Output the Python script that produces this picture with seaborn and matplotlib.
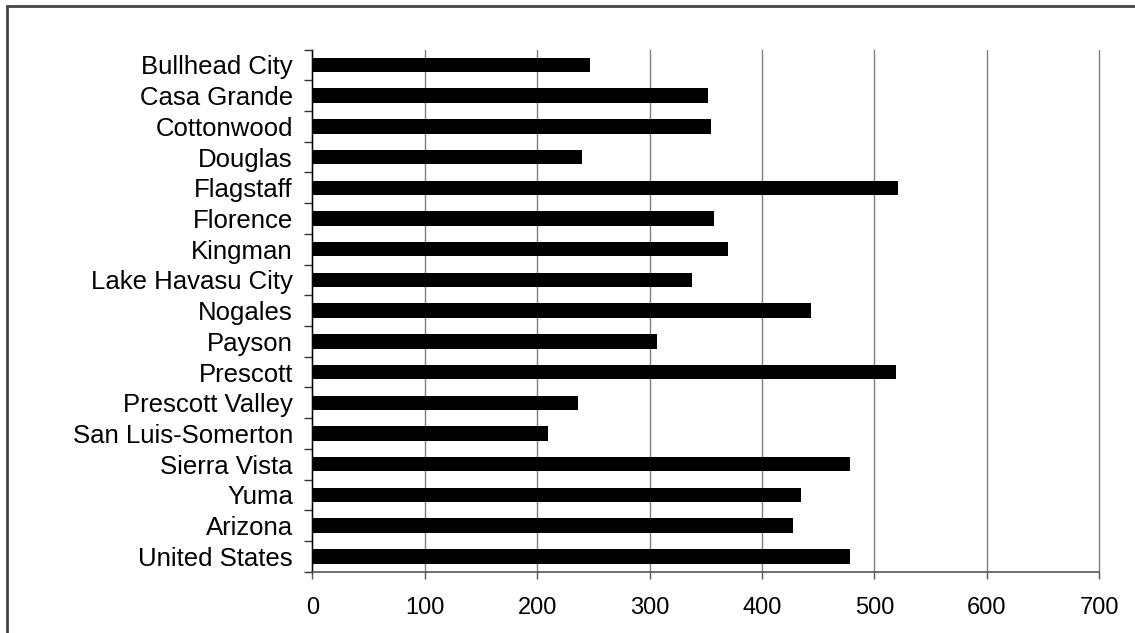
import matplotlib
matplotlib.use('Agg')
import matplotlib.pyplot as plt
import seaborn as sns
import pandas as pd
from matplotlib.patches import Rectangle
from matplotlib.ticker import FixedLocator

# Data
places = ['Bullhead City', 'Casa Grande', 'Cottonwood', 'Douglas', 'Flagstaff',
          'Florence', 'Kingman', 'Lake Havasu City', 'Nogales', 'Payson',
          'Prescott', 'Prescott Valley', 'San Luis-Somerton', 'Sierra Vista',
          'Yuma', 'Arizona', 'United States']
values = [247, 352, 355, 240, 521, 357, 370, 338, 444, 307,
          519, 236, 210, 478, 435, 428, 478]
x_ticks = [0, 100, 200, 300, 400, 500, 600, 700]

df = pd.DataFrame({'place': places, 'value': values})

sns.set_style('white')
plt.rcParams['font.family'] = ['Liberation Sans', 'DejaVu Sans']
plt.rcParams['text.color'] = 'black'
plt.rcParams['xtick.labelcolor'] = 'black'
plt.rcParams['ytick.labelcolor'] = 'black'

fig = plt.figure(figsize=(11.35, 6.33), dpi=100)
ax = fig.add_axes([0.2752, 0.0968, 0.6933, 0.8250])

sns.barplot(data=df, x='value', y='place', orient='h', color='black',
            width=0.47, saturation=1, edgecolor='black', linewidth=0, ax=ax)

ax.set_xlim(0, 700)
ax.set_ylim(len(places) - 0.5, -0.5)
ax.set_xticks(x_ticks)
ax.set_xlabel('')
ax.set_ylabel('')

# vertical gridlines
ax.grid(axis='x', color='#7f7f7f', linewidth=1.0)
ax.grid(axis='y', visible=False)
for gl in ax.get_xgridlines():
    gl.set_clip_on(False)
ax.set_axisbelow(True)

# spines
for s in ['top', 'right']:
    ax.spines[s].set_visible(False)
ax.spines['left'].set_color('#000000')
ax.spines['left'].set_linewidth(1.0)
ax.spines['bottom'].set_color('#555555')
ax.spines['bottom'].set_linewidth(1.2)

# tick marks between categories on the y axis
ax.yaxis.set_minor_locator(FixedLocator([i + 0.5 for i in range(-1, len(places))]))
ax.tick_params(axis='y', which='major', length=0, pad=14, labelsize=18.5)
ax.tick_params(axis='y', which='minor', left=True, length=6, width=1.0, color='#333333')
ax.tick_params(axis='x', which='major', bottom=True, length=5, width=1.0,
               color='#555555', pad=13, labelsize=17)

# outer chart border
fig.patches.append(Rectangle((7 / 1135, -0.05), 1.1, 1.05 - 6 / 633,
                             transform=fig.transFigure, fill=False,
                             edgecolor='#444444', linewidth=2.0))

fig.savefig('out.png', dpi=100)
